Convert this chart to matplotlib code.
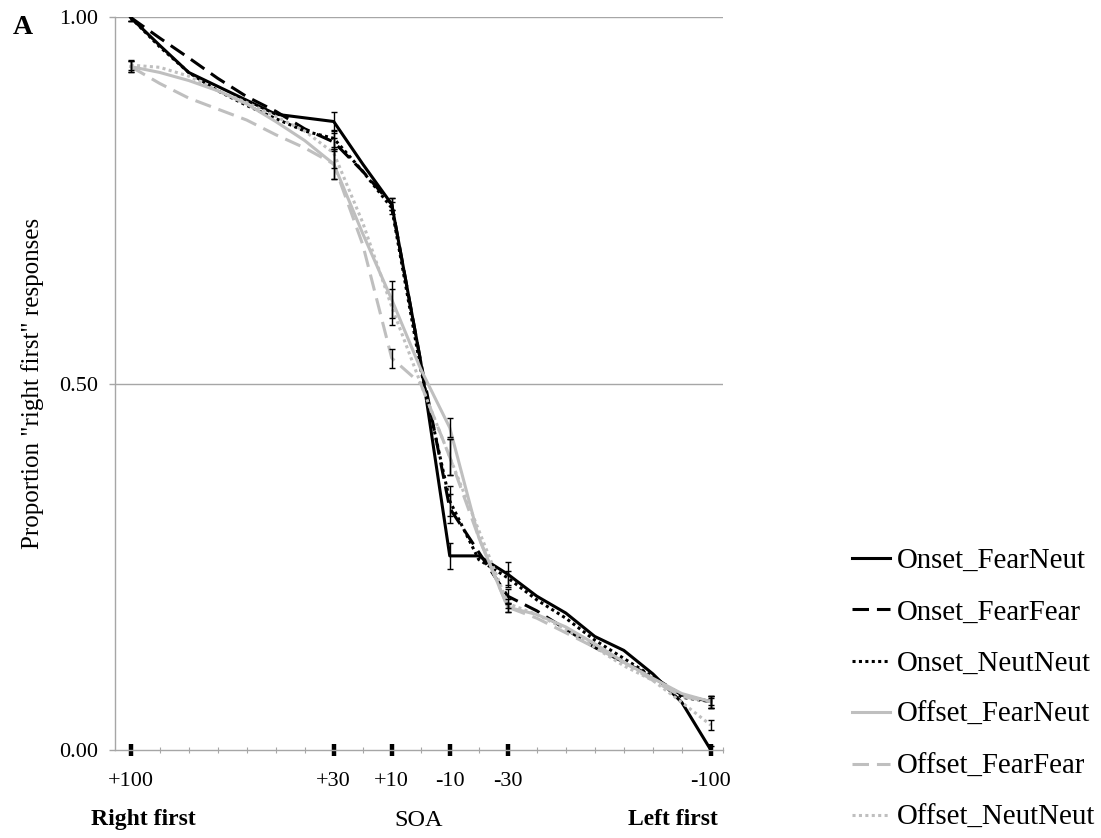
import matplotlib
matplotlib.use("Agg")
import matplotlib.pyplot as plt
import numpy as np

plt.rcParams['font.family'] = ['Liberation Serif', 'DejaVu Serif']

# SOA (ms), positive = right first
soa = [100, 90, 80, 70, 60, 50, 40, 30, 20, 10, 0,
       -10, -20, -30, -40, -50, -60, -70, -80, -90, -100]

onset_fearneut = [1.00, 0.962, 0.925, 0.906, 0.887, 0.868, 0.863, 0.858, 0.80, 0.745, 0.53,
                  0.265, 0.265, 0.24, 0.21, 0.187, 0.155, 0.136, 0.104, 0.065, 0.0]
onset_fearfear = [1.00, 0.972, 0.945, 0.917, 0.892, 0.872, 0.848, 0.83, 0.79, 0.745, 0.53,
                  0.33, 0.27, 0.21, 0.19, 0.165, 0.14, 0.12, 0.10, 0.075, 0.066]
onset_neutneut = [1.00, 0.96, 0.925, 0.90, 0.88, 0.862, 0.845, 0.835, 0.79, 0.74, 0.52,
                  0.34, 0.26, 0.235, 0.205, 0.18, 0.15, 0.125, 0.10, 0.072, 0.066]
offset_fearneut = [0.933, 0.925, 0.914, 0.90, 0.882, 0.858, 0.832, 0.80, 0.705, 0.615, 0.52,
                   0.44, 0.29, 0.195, 0.185, 0.168, 0.145, 0.12, 0.098, 0.077, 0.066]
offset_fearfear = [0.933, 0.91, 0.89, 0.875, 0.86, 0.84, 0.822, 0.80, 0.69, 0.535, 0.50,
                   0.40, 0.29, 0.195, 0.18, 0.16, 0.14, 0.12, 0.095, 0.073, 0.066]
offset_neutneut = [0.935, 0.932, 0.92, 0.90, 0.884, 0.865, 0.845, 0.815, 0.72, 0.605, 0.50,
                   0.40, 0.30, 0.20, 0.185, 0.165, 0.14, 0.115, 0.095, 0.065, 0.034]

# error bars only at the tested SOAs
err_soa = [100, 30, 10, -10, -30, -100]
onset_fearneut_err = [0.005, 0.013, 0.008, 0.018, 0.017, 0.005]
onset_fearfear_err = [0.005, 0.012, 0.008, 0.02, 0.01, 0.008]
onset_neutneut_err = [0.005, 0.012, 0.008, 0.02, 0.01, 0.005]
offset_fearneut_err = [0.007, 0.02, 0.025, 0.013, 0.006, 0.008]
offset_fearfear_err = [0.007, 0.02, 0.013, 0.025, 0.006, 0.008]
offset_neutneut_err = [0.007, 0.02, 0.025, 0.025, 0.006, 0.007]

labels = ['Onset_FearNeut', 'Onset_FearFear', 'Onset_NeutNeut',
          'Offset_FearNeut', 'Offset_FearFear', 'Offset_NeutNeut']
tick_soa = [100, 30, 10, -10, -30, -100]
tick_labels = ['+100', '+30', '+10', '-10', '-30', '-100']

series = [onset_fearneut, onset_fearfear, onset_neutneut,
          offset_fearneut, offset_fearfear, offset_neutneut]
errs = [onset_fearneut_err, onset_fearfear_err, onset_neutneut_err,
        offset_fearneut_err, offset_fearfear_err, offset_neutneut_err]

black = '#000000'
grey = '#bfbfbf'
styles = [(black, '-'), (black, (0, (5.4, 2.6))), (black, (0, (1, 1.1))),
          (grey, '-'), (grey, (0, (5.4, 2.6))), (grey, (0, (1, 1.1)))]

W, H = 1101, 838
fig = plt.figure(figsize=(W / 100, H / 100), dpi=100)
ax = fig.add_axes([115 / W, 1 - 750 / H, (723 - 115) / W, (750 - 17.5) / H])

handles = []
for vals, e, (c, ls), lab in zip(series, errs, styles, labels):
    h, = ax.plot(soa, vals, color=c, linestyle=ls, lw=2.2, label=lab, zorder=3)
    handles.append(h)
    ev = [vals[soa.index(s)] for s in err_soa]
    ax.errorbar(err_soa, ev, yerr=e, fmt='none', ecolor='black',
                elinewidth=1, capsize=2.3, capthick=1, zorder=5)

ax.set_xlim(105.4, -104.2)
ax.set_ylim(0, 1)

for y in [0.5, 1.0]:
    ax.axhline(y, color='#a6a6a6', lw=1, zorder=1)

for s in ['top', 'right']:
    ax.spines[s].set_visible(False)
for s in ['left', 'bottom']:
    ax.spines[s].set_color('#a6a6a6')
    ax.spines[s].set_linewidth(1)
    ax.spines[s].set_zorder(2)

ax.set_yticks([0, 0.5, 1.0])
ax.set_yticklabels(['0.00', '0.50', '1.00'], fontsize=16)
ax.tick_params(axis='y', direction='out', length=4.5, width=1, color='#a6a6a6', pad=8)

ax.set_xticks(tick_soa)
ax.set_xticklabels(tick_labels, fontsize=16)
ax.set_xticks(list(range(-100, 101, 10)) + [-104.2], minor=True)
ax.tick_params(axis='x', which='major', direction='inout', length=8, width=3.2,
               color='black', pad=12)
ax.tick_params(axis='x', which='minor', direction='inout', length=5, width=0.8,
               color='#a6a6a6')

fig.text(12.5 / W, 1 - 27.5 / H, 'A', fontsize=20, fontweight='bold', va='center', ha='left')
fig.text(33 / W, 1 - 383 / H, 'Proportion "right first" responses', fontsize=18,
         rotation=90, va='center', ha='center')
fig.text(143 / W, 1 - 819 / H, 'Right first', fontsize=17, fontweight='bold',
         va='center', ha='center')
fig.text(419 / W, 1 - 820 / H, 'SOA', fontsize=17.5, va='center', ha='center')
fig.text(673 / W, 1 - 819 / H, 'Left first', fontsize=17, fontweight='bold',
         va='center', ha='center')

fig.legend(handles, labels, loc='center left', bbox_to_anchor=(852 / W, 1 - 689.5 / H),
           frameon=False, fontsize=20.8, handlelength=1.32, handletextpad=0.24,
           labelspacing=0.87, borderpad=0, borderaxespad=0)

fig.savefig('out.png', dpi=100)
